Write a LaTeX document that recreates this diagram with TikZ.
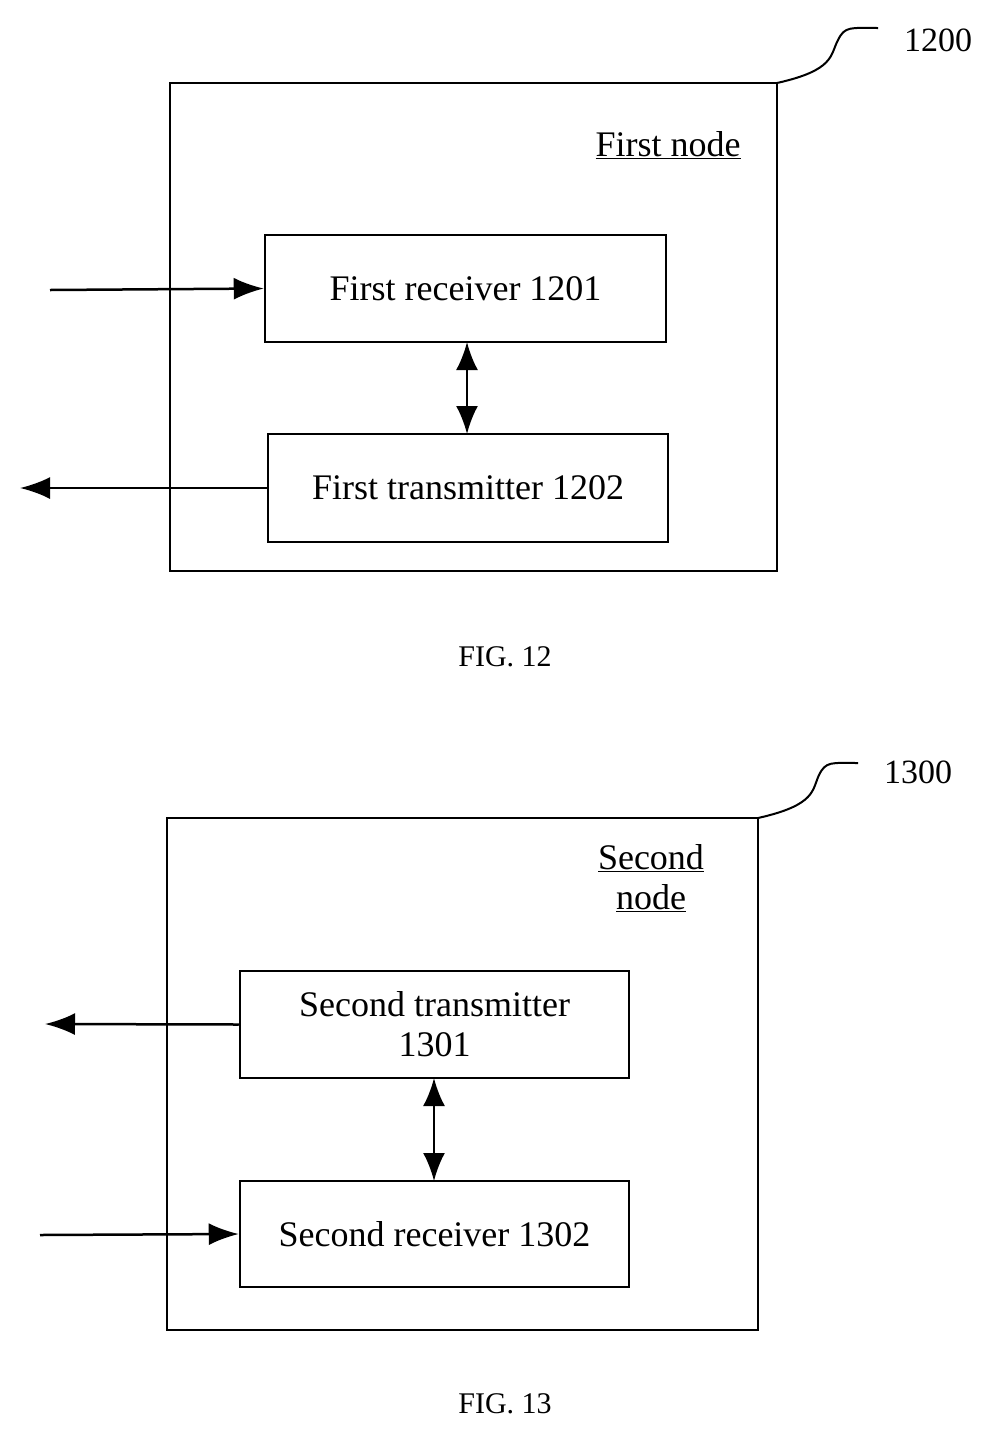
\documentclass[tikz,border=0pt]{standalone}
\usepackage{fontspec}
\setmainfont{Liberation Serif}
\usetikzlibrary{arrows.meta}
\begin{document}
\begin{tikzpicture}[x=1pt,y=-1pt,
  box/.style={draw,line width=2.5pt,inner sep=0pt},
  conn/.style={line width=2.5pt,-{Latex[length=30pt,width=22pt]}},
  dconn/.style={line width=2.5pt,{Latex[length=28pt,width=22pt]}-{Latex[length=28pt,width=22pt]}},
  lbl/.style={font=\fontsize{36}{40}\selectfont},
  figcap/.style={font=\fontsize{30}{34}\selectfont},
  refnum/.style={font=\fontsize{34}{38}\selectfont}]
\useasboundingbox (0,0) rectangle (1003,1436);
% FIG 12
\draw[box] (170,83) rectangle (777,571);
\node[lbl] (fn) at (668,145) {\underline{First node}};
\node[box,minimum width=401pt,minimum height=107pt,lbl] (r1) at (465.5,288.5) {First receiver 1201};
\node[box,minimum width=400pt,minimum height=108pt,lbl] (t1) at (468,488) {First transmitter 1202};
\coordinate (in1) at (50,290);
\coordinate (out1) at (20,488);
\draw[conn] (in1) -- (r1.west);
\draw[conn] (t1.west) -- (out1);
\draw[dconn] (467,342) -- (467,434);
\coordinate (c1) at (777,83);
\node[refnum] (n1200) at (938,40) {1200};
\draw[line width=2pt] (c1) .. controls (835,70) and (830,55) .. (838,40) .. controls (845,26) and (850,28) .. (878,28);
\node[figcap] (f12) at (505,657) {FIG. 12};
% FIG 13
\draw[box] (167,818) rectangle (758,1330);
\node[lbl,align=center] (sn) at (651,878) {\underline{Second}\\\underline{node}};
\node[box,minimum width=389pt,minimum height=107pt,lbl,align=center] (t2) at (434.5,1024.5) {Second transmitter\\1301};
\node[box,minimum width=389pt,minimum height=106pt,lbl] (r2) at (434.5,1234) {Second receiver 1302};
\coordinate (out2) at (45,1024);
\coordinate (in2) at (40,1235);
\draw[conn] (t2.west) -- (out2);
\draw[conn] (in2) -- (r2.west);
\draw[dconn] (434,1078) -- (434,1181);
\coordinate (c2) at (758,818);
\node[refnum] (n1300) at (918,772) {1300};
\draw[line width=2pt] (c2) .. controls (816,805) and (812,790) .. (819,775) .. controls (826,761) and (831,763) .. (858,763);
\node[figcap] (f13) at (505,1404) {FIG. 13};
\end{tikzpicture}
\end{document}
